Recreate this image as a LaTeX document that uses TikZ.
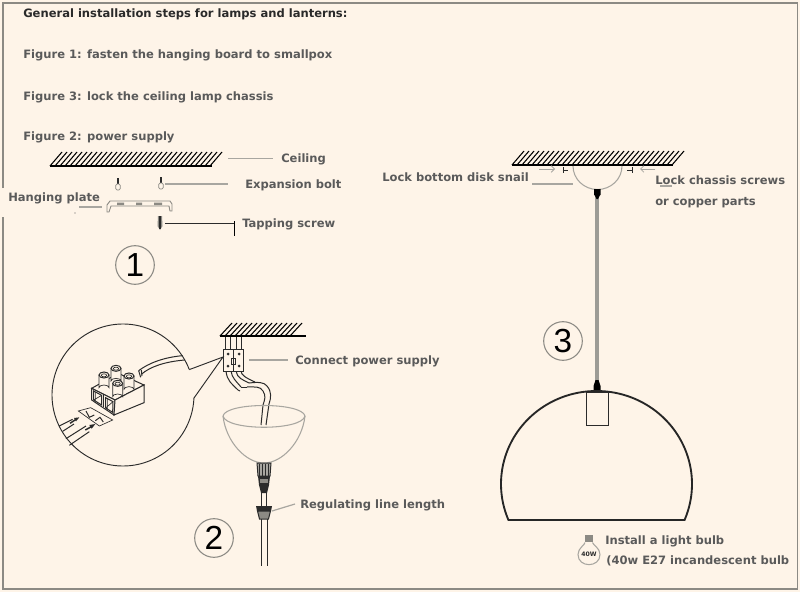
\documentclass[tikz,border=0pt]{standalone}
\usepackage{fontspec}
\usetikzlibrary{arrows.meta}
\setmainfont{DejaVu Sans}
\newfontfamily\digitfont{Liberation Sans}
\definecolor{paper}{HTML}{FEF4E8}
\definecolor{frameC}{HTML}{8C8A84}
\definecolor{leadC}{HTML}{A8A6A0}
\definecolor{headC}{HTML}{2A2A2A}
\definecolor{textC}{HTML}{5A5A5A}
\definecolor{inkC}{HTML}{2B2B2B}
\tikzset{
  lbl/.style={anchor=base west,inner sep=0pt,text=textC,font=\fontsize{8.65pt}{10pt}\selectfont\bfseries},
  head/.style={lbl,text=headC},
  leader/.style={draw=leadC,line width=.9pt},
  ink/.style={draw=inkC,line width=.75pt},
  thinink/.style={draw=inkC,line width=.5pt},
  hatch/.style={draw=black,line width=.8pt},
  soft/.style={draw=leadC,line width=.8pt},
  badge/.style={circle,draw=frameC,line width=.8pt,minimum size=29pt,inner sep=0pt,font=\digitfont\fontsize{25pt}{25pt}\selectfont,text=black},
  shell/.style={draw=black!85,line width=1.4pt},
  screwcap/.style={draw=inkC,line width=.5pt,fill=paper}
}
\newcommand{\ceilinghatch}[5]{% x1 x2 ybase rise next
  \foreach \hx in {#1,#5,...,#2}{\draw[hatch] (\hx,#3) -- ++(12,-#4);}
  \draw[draw=black,line width=.9pt] (#1,#3) -- (#2,#3);
}
\begin{document}
\begin{tikzpicture}[x=.75pt,y=-.75pt]
\useasboundingbox (0,0) rectangle (800,592);
\fill[paper] (0,0) rectangle (800,592);
\draw[frameC,line width=.9pt] (3,188) -- (3,3) -- (797.5,3) -- (797.5,589) -- (3,589) -- (3,217);

% --- heading
\node[head] (h0) at (23,18) {General installation steps for lamps and lanterns:};
\node[lbl] (h1) at (23,59) {Figure 1: fasten the hanging board to smallpox};
\node[lbl] (h2) at (23,100) {Figure 3: lock the ceiling lamp chassis};
\node[lbl] (h3) at (23,141) {Figure 2: power supply};

% --- figure 1
\ceilinghatch{50}{212}{166}{14}{55}
\node[lbl] (lCeil) at (281,162) {Ceiling};
\node[lbl] (lBolt) at (245,188) {Expansion bolt};
\node[lbl] (lPlate) at (8,201) {Hanging plate};
\node[lbl] (lScrew) at (242,227) {Tapping screw};
\coordinate (cCeil) at (228,158.5);
\coordinate (cBolt) at (165,184);
\coordinate (cBoltEnd) at (228,184);
\coordinate (cCeilEnd) at (273,158.5);
\coordinate (cPlateA) at (79,207);
\coordinate (cPlateB) at (102,207);
\coordinate (cScrew) at (165,223);
\coordinate (cStop) at (234.5,223);
\draw[leader] (cCeil) -- (cCeilEnd);
\draw[leader] (cBolt) -- (cBoltEnd);
\draw[leader] (cPlateA) -- (cPlateB);
\draw[thinink] (cScrew) -- (cStop);
\draw[draw=black,line width=1pt] (234.5,221) -- (234.5,236);
\fill[textC] (75,213) circle[radius=.7];
% bolts
\foreach \bx/\by in {118/178,161/177}{
  \fill[inkC] (\bx-1.4,\by) rectangle (\bx+1.4,\by+6);
  \draw[draw=frameC,line width=.5pt,fill=paper,rounded corners=1pt] (\bx-2.2,\by+6) rectangle (\bx+2.2,\by+12);
}
% plate
\draw[draw=frameC,line width=.7pt,fill=paper] (107,212) -- (107,205) -- (110,201) -- (170,201) -- (172,204) -- (172,211) -- (170,211) -- (169,206) -- (111,206) -- (109,212) -- cycle;
\fill[frameC] (117,202.5) rectangle (124,205) (136,202.5) rectangle (142,205) (154,202.5) rectangle (162,205);
% screw
\fill[frameC] (158,216) -- (162,216) -- (162.5,226) -- (160,230) -- (157.5,226) -- cycle;
\fill[inkC] (159,216) -- (161,216) -- (161,229) -- (159,229) -- cycle;
\node[badge] (b1) at (135,265) {1};

% --- figure 2
\ceilinghatch{220}{294}{336}{13}{225}
\draw[draw=black,line width=.9pt] (220,336) -- (306,336);
\foreach \wx in {225.5,230,236.5,241}{\draw[ink] (\wx,337) -- (\wx,349);}
\node[lbl] (lPower) at (295,364) {Connect power supply};
\coordinate (cPower) at (249,360);
\coordinate (cPowerEnd) at (288,360);
\draw[leader] (cPower) -- (cPowerEnd);
% connector and wires
\draw[ink] (226,371) .. controls (227,381) and (232,384) .. (238,390) -- (240,391);
\draw[ink] (231,371) .. controls (232,378) and (236,381) .. (241,387);
\draw[ink] (236,371) .. controls (237,378) and (243,380) .. (249,383);
\draw[ink] (241,371) .. controls (241,375) and (246,378) .. (255,382);
\draw[ink] (241,387) -- (247,387);
\draw[ink] (249,383) .. controls (258,382) and (264,382) .. (267,386) .. controls (272,392) and (271,398) .. (269,404) -- (266,425);
\draw[ink] (247,387) .. controls (255,387) and (260,386) .. (263,391) .. controls (266,396) and (265,399) .. (263,405) -- (261,425);
\draw[ink,fill=paper] (223.5,349.5) rectangle (243.5,371);
\draw[ink] (233.5,349.5) -- (233.5,371);
\foreach \dx/\dy in {228/354,228/366,239/354,239/366}{\fill[inkC] (\dx,\dy) circle[radius=1.5];}
\draw[thinink] (231.5,358) rectangle (235.5,364);
% bowl
\draw[soft] (223,416) .. controls (226,402) and (302,402) .. (305,416) .. controls (302,431) and (226,431) .. (223,416);
\draw[soft] (223,416) .. controls (226,442) and (246,463) .. (264,463) .. controls (282,463) and (302,442) .. (305,416);
% socket and nut
\draw[ink,fill=leadC] (257,463) -- (271,463) -- (270,476) -- (258,476) -- cycle;
\foreach \sx in {259.5,262.5,265.5,268.5}{\draw[draw=inkC,line width=.6pt] (\sx,464) -- (\sx,476);}
\fill[inkC] (258,476) -- (270,476) -- (269,485) -- (267,493) -- (261,493) -- (259,485) -- cycle;
\fill[frameC] (260,479) rectangle (268,483);
\draw[ink] (261.5,493) -- (261.5,506);
\draw[ink] (266.5,493) -- (266.5,506);
\fill[inkC] (256,506) -- (272,506) -- (271,511) -- (257,511) -- cycle;
\draw[ink,fill=frameC] (257.5,511) -- (270.5,511) -- (268.5,519) -- (259.5,519) -- cycle;
\draw[ink] (261.5,519) -- (261.5,566);
\draw[ink] (267,519) -- (267,566);
\node[lbl] (lReg) at (300,508) {Regulating line length};
\coordinate (cReg) at (272,511);
\coordinate (cRegEnd) at (295,504);
\draw[leader] (cReg) -- (cRegEnd);
\node[badge] (b2) at (214,538) {2};

% --- magnifier
\draw[draw=inkC,line width=.7pt] plot[domain=21:357.6,samples=140] ({123+71*cos(\x)},{395-71*sin(\x)});
\coordinate (cTip) at (223,357);
\draw[draw=inkC,line width=.7pt] (189.3,369.6) -- (cTip) -- (194,398);
\begin{scope}[shift={(50,340)},x=.25pt,y=-.25pt]
  % wire from the block to the rim
  \draw[ink] (266,92) .. controls (295,70) and (340,52) .. (398,47);
  \draw[ink] (274,103) .. controls (300,80) and (345,65) .. (404,60);
  \draw[ink] (266,92) -- (272,112) (274,90) -- (276,108);
  % block
  \draw[ink,fill=paper] (125,145) -- (205,100) -- (282,135) -- (195,180) -- cycle;
  \draw[ink,fill=paper] (125,145) -- (195,180) -- (192,225) -- (125,180) -- cycle;
  \draw[ink,fill=paper] (195,180) -- (282,135) -- (282,188) -- (192,225) -- cycle;
  \draw[ink] (160,162) -- (160,202);
  \draw[ink] (131,153) -- (155,166) -- (155,195) -- (131,180) -- cycle;
  \draw[thinink] (131,180) -- (155,166) (136,156) -- (136,183);
  \draw[ink] (167,173) -- (189,185) -- (188,217) -- (167,204) -- cycle;
  \draw[thinink] (167,204) -- (189,185) (172,176) -- (172,207);
  % screws, back to front
  \foreach \cx/\cy/\ch in {198/85/38,162/105/38,237/108/40,203/130/40}{
    \draw[screwcap] (\cx-15,\cy) -- (\cx-15,\cy+\ch) arc[start angle=180,end angle=360,x radius=15,y radius=8] -- (\cx+15,\cy);
    \draw[ink,fill=paper] (\cx,\cy) ellipse[x radius=15,y radius=9];
    \draw[thinink] (\cx,\cy+1) ellipse[x radius=8,y radius=4.5];
  }
  % plate with marks
  \draw[thinink] (85,213) -- (122,203) -- (188,240) -- (148,258) -- cycle;
  \draw[ink] (108,213) -- (118,232) -- (133,225);
  \draw[ink] (136,242) -- (150,232) -- (160,246);
  % wires and arrows
  \draw[ink] (28,258) -- (68,238);
  \draw[ink] (38,274) -- (72,252);
  \draw[draw=inkC,line width=1.1pt] (60,250) -- (78,238);
  \fill[inkC] (88,232) -- (72,234) -- (78,244) -- cycle;
  \draw[ink] (48,296) -- (108,258);
  \draw[ink] (58,316) -- (118,275);
  \draw[draw=inkC,line width=1.1pt] (106,270) -- (124,260);
  \fill[inkC] (136,252) -- (118,255) -- (125,266) -- cycle;
\end{scope}

% --- figure 3
\ceilinghatch{512}{673}{165}{14}{517}
\draw[soft] (573,166) arc[start angle=180,end angle=360,x radius=24.5,y radius=-23.5];
\node[lbl] (lSnail) at (382,181) {Lock bottom disk snail};
\node[lbl] (lChassis) at (655,184) {Lock chassis screws};
\node[lbl] (lCopper) at (655,205) {or copper parts};
\coordinate (cSnailA) at (532,184);
\coordinate (cSnailB) at (573,184);
\coordinate (cChassisA) at (660,186);
\coordinate (cChassisB) at (672,186);
\draw[leader] (cSnailA) -- (cSnailB);
\draw[leader] (cChassisA) -- (cChassisB);
\draw[draw=leadC,line width=.6pt,-{Straight Barb[length=2.5pt]}] (539,169) -- (555,169);
\draw[draw=leadC,line width=.6pt,-{Straight Barb[length=2.5pt]}] (655,169) -- (640,169);
\draw[ink] (562.5,170) -- (568,170) (563.5,167) -- (563.5,173);
\draw[ink] (627,170) -- (633,170) (632,167) -- (632,173);
\draw[draw=frameC!85!white,line width=3pt] (597.3,195) -- (597.3,384);
\fill[black] (594,189) rectangle (600.5,195) (594.5,195) -- (600,195) -- (598,199) -- (596.5,199) -- cycle;
\fill[black] (593.5,392) -- (600.5,392) -- (600.5,386) -- (598.5,380) -- (595.5,380) -- (593.5,386) -- cycle;
\draw[shell] plot[domain=-22.8:202.8,samples=120] ({596.5+95.5*cos(\x)},{484-93*sin(\x)}) -- cycle;
\draw[draw=inkC,line width=.7pt] (586,392.5) rectangle (608.3,425);
\node[badge] (b3) at (563,341) {3};
% bulb
\fill[frameC] (585,535) rectangle (592.5,542);
\draw[soft] (585,542.5) .. controls (585,545) and (578,548) .. (578,554.5) .. controls (578,568) and (600,568) .. (600,554.5) .. controls (600,548) and (593,545) .. (592.5,542.5);
\node[inner sep=0pt,text=inkC,font=\fontsize{4.6pt}{5pt}\selectfont\bfseries] (lWatt) at (589,554.5) {40W};
\node[lbl] (lBulb) at (605,544) {Install a light bulb};
\node[lbl] (lBulb2) at (606,564) {(40w E27 incandescent bulb};
\end{tikzpicture}
\end{document}
